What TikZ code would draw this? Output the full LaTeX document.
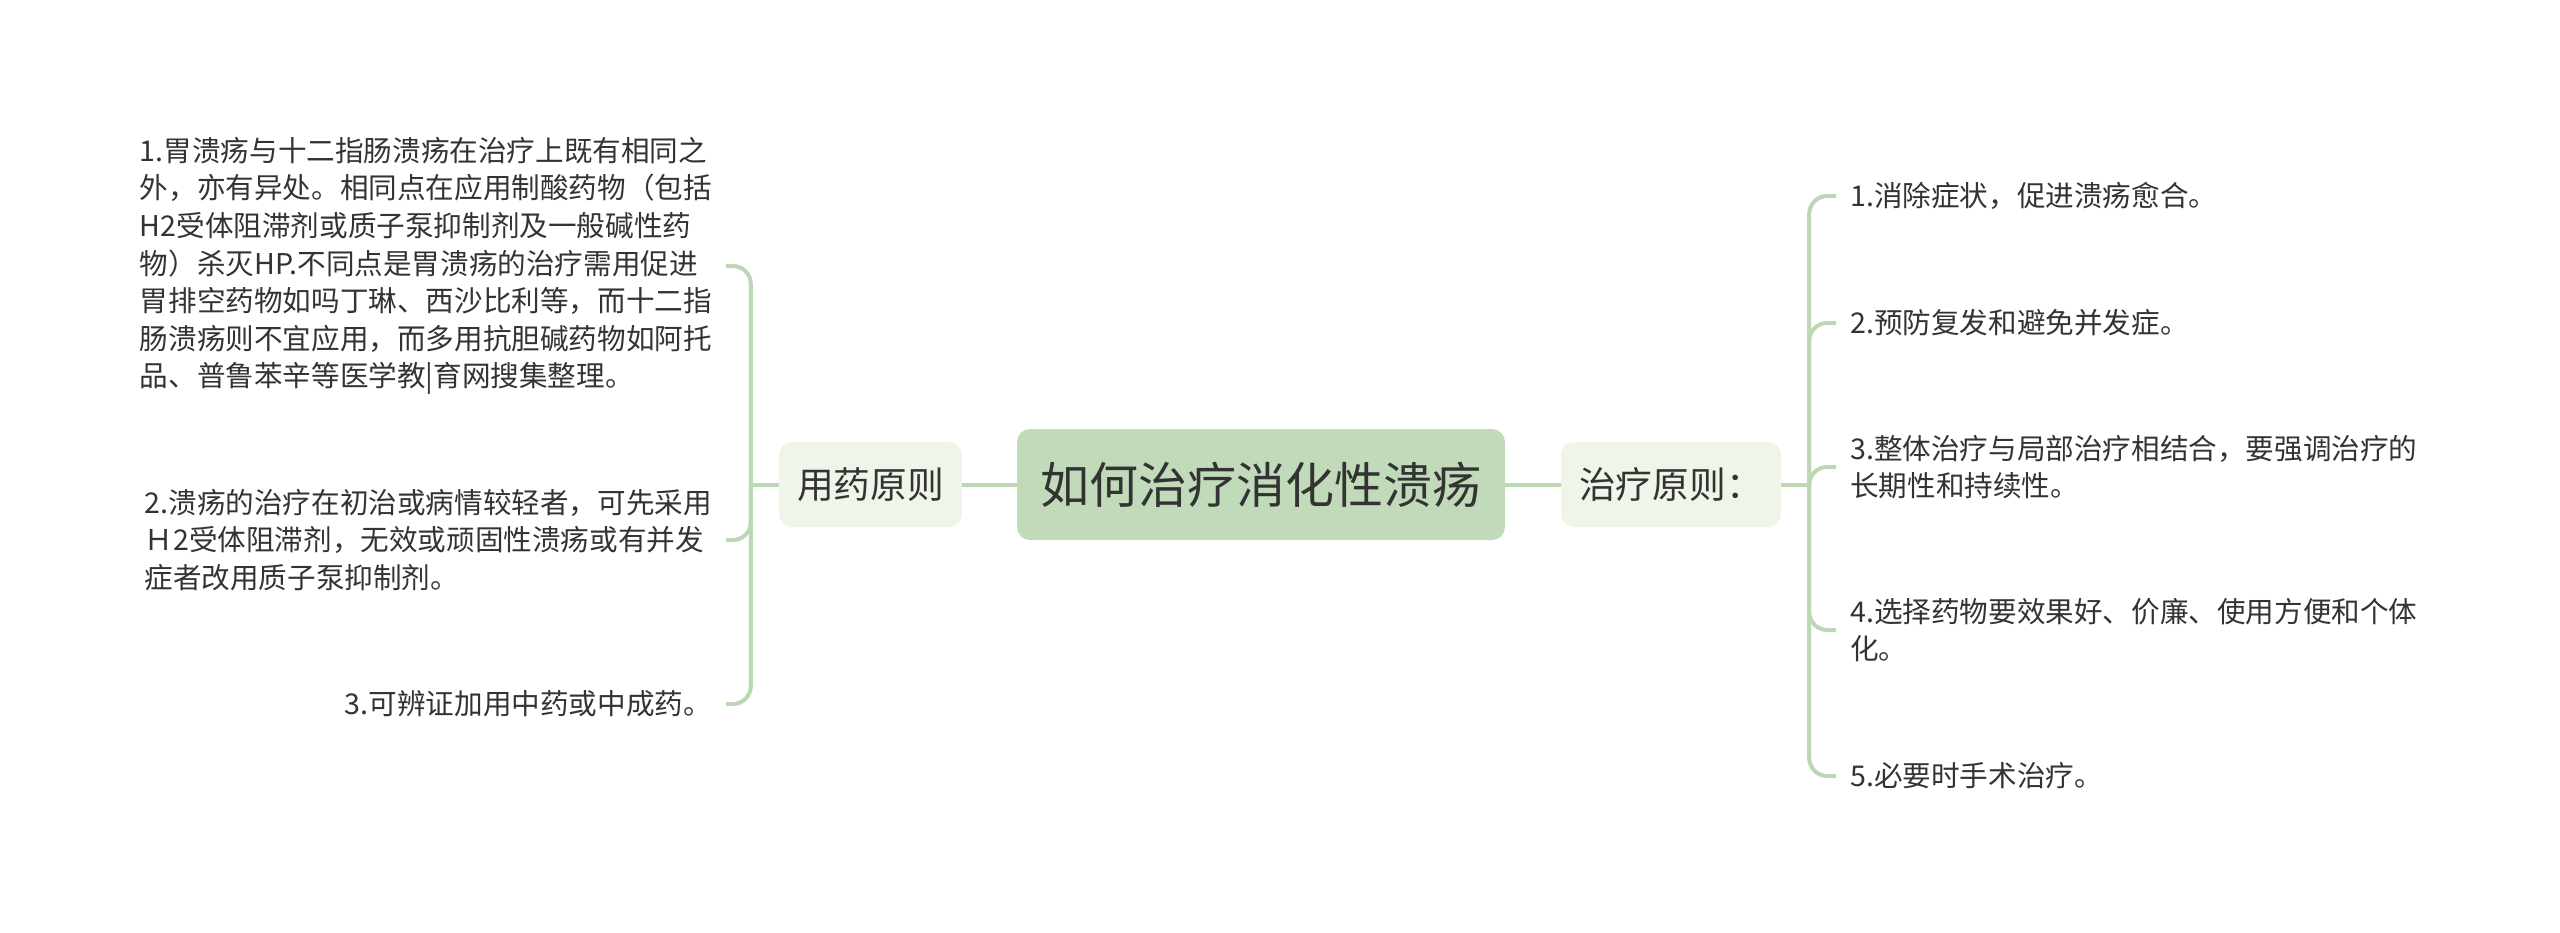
\documentclass[tikz,border=0pt]{standalone}
\usepackage{fontspec}
\setmainfont{Noto Sans CJK SC}
\usetikzlibrary{positioning}

\definecolor{rootfill}{HTML}{C1DAB9}
\definecolor{subfill}{HTML}{EFF6E9}
\definecolor{linkcol}{HTML}{BCD7B5}
\definecolor{textcol}{HTML}{333333}

\tikzset{
    rootbox/.style={fill=rootfill, rounded corners=13pt, minimum width=488pt,
        minimum height=111pt, inner sep=0pt, text=textcol,
        font=\fontsize{49}{58}\selectfont},
    subbox/.style={fill=subfill, rounded corners=13pt, minimum height=85pt,
        inner sep=0pt, text=textcol, font=\fontsize{36.7}{44}\selectfont},
    leaf/.style={align=left, inner xsep=14pt, inner ysep=0pt, text=textcol,
        font=\fontsize{28.6}{37.6}\selectfont},
    linkline/.style={draw=linkcol, line width=4pt},
}

\begin{document}
\begin{tikzpicture}[x=1pt, y=-1pt]
    \useasboundingbox (0, 0) rectangle (2560, 932);
    \node[rootbox] (root) at (1261, 484.5) {如何治疗消化性溃疡};
    \node[subbox, minimum width=183pt] (yy) at (870.5, 484.5) {用药原则};
    \node[subbox, minimum width=220pt] (zl) at (1671, 484.5) {治疗原则：};

    \node[leaf, anchor=east] (l1) at (726, 266) {1.胃溃疡与十二指肠溃疡在治疗上既有相同之\\
	外，亦有异处。相同点在应用制酸药物（包括\\
	H2受体阻滞剂或质子泵抑制剂及一般碱性药\\
	物）杀灭HP.不同点是胃溃疡的治疗需用促进\\
	胃排空药物如吗丁琳、西沙比利等，而十二指\\
	肠溃疡则不宜应用，而多用抗胆碱药物如阿托\\
	品、普鲁苯辛等医学教|育网搜集整理。};
    \node[leaf, anchor=east] (l2) at (726, 540) {2.溃疡的治疗在初治或病情较轻者，可先采用\\
	Ｈ2受体阻滞剂，无效或顽固性溃疡或有并发\\
	症者改用质子泵抑制剂。};
    \node[leaf, anchor=east] (l3) at (726, 704) {3.可辨证加用中药或中成药。};

    \node[leaf, anchor=west] (r1) at (1836, 196) {1.消除症状，促进溃疡愈合。};
    \node[leaf, anchor=west] (r2) at (1836, 323) {2.预防复发和避免并发症。};
    \node[leaf, anchor=west] (r3) at (1836, 467) {3.整体治疗与局部治疗相结合，要强调治疗的\\
	长期性和持续性。};
    \node[leaf, anchor=west] (r4) at (1836, 630) {4.选择药物要效果好、价廉、使用方便和个体\\
	化。};
    \node[leaf, anchor=west] (r5) at (1836, 776) {5.必要时手术治疗。};

    \coordinate[left=28pt of yy] (lj);
    \coordinate[right=28pt of zl] (rj);
    \draw[linkline] (root) -- (yy);
    \draw[linkline] (root) -- (zl);
    \draw[linkline] (yy) -- (lj);
    \draw[linkline] (zl) -- (rj);
    \foreach \n in {l1, l2, l3}
	\draw[linkline, rounded corners=18pt] (lj) |- (\n.east);
    \foreach \n in {r1, r2, r3, r4, r5}
	\draw[linkline, rounded corners=18pt] (rj) |- (\n.west);
\end{tikzpicture}
\end{document}
